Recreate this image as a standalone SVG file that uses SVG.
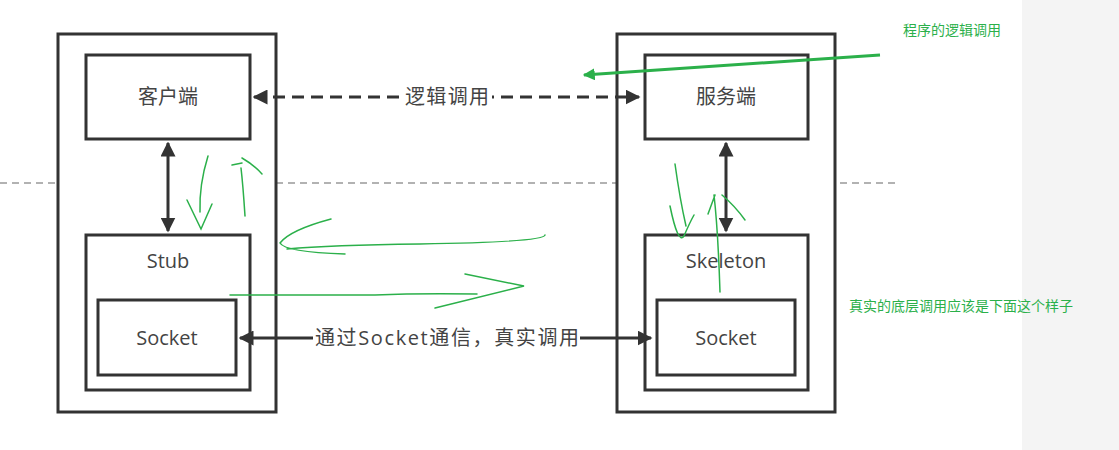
<svg xmlns="http://www.w3.org/2000/svg" width="1119" height="450" viewBox="0 0 1119 450">
<style>
.box{fill:#fff;stroke:#333;stroke-width:3}
.t{font-family:"Open Sans","Noto Sans CJK SC",sans-serif;font-size:20px;fill:#444;text-anchor:middle}
.g{fill:none;stroke:#2bb04a;stroke-width:1.5;stroke-linecap:round}
.gt{font-family:"Noto Sans CJK SC",sans-serif;font-size:14px;fill:#2bb04a}
.c{stroke:#333;stroke-width:3;fill:none}
</style>
<defs>
<marker id="a" viewBox="0 0 10 10" refX="9" refY="5" markerWidth="5" markerHeight="5" orient="auto-start-reverse"><path d="M0,0L10,5L0,10z" fill="#333"/></marker>
<marker id="ga" viewBox="0 0 10 10" refX="9" refY="5" markerWidth="4" markerHeight="4" orient="auto"><path d="M0,0L10,5L0,10z" fill="#2bb04a"/></marker>
</defs>
<rect width="1119" height="450" fill="#fff"/>
<rect x="1022" y="0" width="97" height="450" fill="#f4f4f4"/>
<line x1="0" y1="183" x2="895" y2="183" stroke="#999" stroke-width="1.5" stroke-dasharray="7,5"/>
<g id="left"><rect class="box" x="58" y="34" width="218" height="378"/></g>
<g id="right"><rect class="box" x="617" y="34" width="218" height="378"/></g>
<g id="client"><rect class="box" x="86" y="55" width="164" height="84"/><text class="t" x="168" y="104">客户端</text></g>
<g id="server"><rect class="box" x="645" y="55" width="163" height="84"/><text class="t" x="726" y="104">服务端</text></g>
<g id="stub"><rect class="box" x="86" y="235" width="164" height="155"/><text class="t" x="168" y="268">Stub</text></g>
<g id="skeleton"><rect class="box" x="645" y="235" width="163" height="155"/><text class="t" x="726" y="268">Skeleton</text></g>
<g id="socketL"><rect class="box" x="98" y="300" width="138" height="75"/><text class="t" x="167" y="345">Socket</text></g>
<g id="socketR"><rect class="box" x="657" y="300" width="138" height="75"/><text class="t" x="726" y="345">Socket</text></g>
<g id="connectors">
<line class="c" x1="254" y1="97" x2="639" y2="97" stroke-dasharray="12,7" marker-start="url(#a)" marker-end="url(#a)"/>
<rect x="402" y="84" width="90" height="26" fill="#fff"/>
<text class="t" x="447" y="104" textLength="84">逻辑调用</text>
<line class="c" x1="240" y1="338" x2="651" y2="338" marker-start="url(#a)" marker-end="url(#a)"/>
<rect x="313" y="325" width="267" height="26" fill="#fff"/>
<text class="t" x="447" y="345" textLength="264">通过Socket通信，真实调用</text>
<line class="c" x1="168" y1="143" x2="168" y2="231" marker-start="url(#a)" marker-end="url(#a)"/>
<line class="c" x1="726" y1="143" x2="726" y2="231" marker-start="url(#a)" marker-end="url(#a)"/>
</g>
<g id="annotations">
<line x1="880" y1="55" x2="584" y2="75" stroke="#2bb04a" stroke-width="3" marker-end="url(#ga)"/>
<text class="gt" x="903" y="35">程序的逻辑调用</text>
<text class="gt" x="849" y="311">真实的底层调用应该是下面这个样子</text>
<path class="g" d="M208,156 Q199,185 200,212 M187,200 L201,229 L212,204"/>
<path class="g" d="M245,216 Q243,185 241,168 M232,165 L242,163 M242,158 Q254,165 262,174"/>
<path class="g" d="M545,235 Q545,242 420,244 Q330,245 287,249 M331,219 Q290,230 280,243 Q285,252 345,254"/>
<path class="g" d="M230,295 L375,295 Q420,293 477,294 M465,274 L524,286 L435,308"/>
<path class="g" d="M675,164 Q680,200 686,226 M670,206 Q678,245 684,236 Q690,222 694,215"/>
<path class="g" d="M720,292 Q718,230 714,195 M708,214 L715,195 M722,195 Q735,206 745,220"/>
</g>
</svg>
